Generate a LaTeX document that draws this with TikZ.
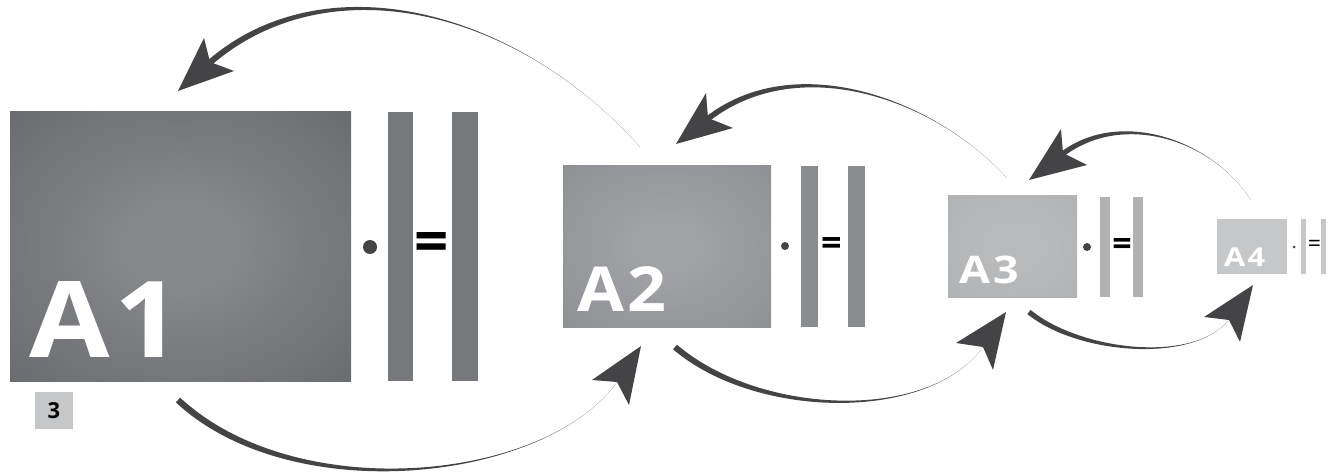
\documentclass[tikz,border=0pt]{standalone}
\usepackage{fontspec}
\usepackage{graphicx}
\setmainfont{Open Sans}
\usetikzlibrary{calc}
\definecolor{arrowc}{HTML}{444446}
\definecolor{dotc}{HTML}{444446}
\definecolor{aoneIn}{HTML}{86878B}
\definecolor{aoneOut}{HTML}{5C5D60}
\definecolor{aoneCorner}{HTML}{545558}
\definecolor{atwoIn}{HTML}{A1A2A5}
\definecolor{atwoOut}{HTML}{86878A}
\definecolor{atwoCorner}{HTML}{808184}
\definecolor{athreeIn}{HTML}{B9BABC}
\definecolor{athreeOut}{HTML}{ADAEB0}
\definecolor{afour}{HTML}{C6C7C8}
\definecolor{barone}{HTML}{77787B}
\definecolor{bartwo}{HTML}{8B8C8F}
\definecolor{barthree}{HTML}{B1B2B4}
\definecolor{barfour}{HTML}{C6C7C8}
\pgfdeclareradialshading{shAone}{\pgfpoint{0bp}{0bp}}{color(0bp)=(aoneIn); color(8bp)=(aoneIn); color(50bp)=(aoneOut); color(71bp)=(aoneCorner)}
\pgfdeclareradialshading{shAtwo}{\pgfpoint{0bp}{0bp}}{color(0bp)=(atwoIn); color(8bp)=(atwoIn); color(50bp)=(atwoOut); color(71bp)=(atwoCorner)}
\pgfdeclareradialshading{shAthree}{\pgfpoint{0bp}{0bp}}{color(0bp)=(athreeIn); color(10bp)=(athreeIn); color(50bp)=(athreeOut); color(71bp)=(athreeOut)}
\newcommand\taperfill[5]{%
  \fill[arrowc] (#1) .. controls (#2) and ($(#3)!#5!90:(#4)$) .. ($(#4)!#5!-90:(#3)$)
    -- ($(#4)!#5!90:(#3)$) .. controls ($(#3)!#5!-90:(#4)$) and (#2) .. (#1) -- cycle;}
\tikzset{
  mat/.style={inner sep=0pt, outer sep=0pt, draw=none},
  barbox/.style={inner sep=0pt, outer sep=0pt, draw=none, minimum width=#1},
  lbl/.style={inner sep=0pt, outer sep=0pt, text=white, anchor=base west},
  eqs/.style={inner sep=0pt, outer sep=0pt, text=black},
  dotn/.style={circle, fill=dotc, inner sep=0pt, minimum size=#1},
  head/.style={fill=arrowc}
}
\begin{document}
\begin{tikzpicture}[x=1pt,y=-1pt]
\useasboundingbox (0,0) rectangle (1338,473);
% ---------- A1 ----------
\node[mat, shading=shAone, minimum width=341pt, minimum height=269pt] (A1) at (180.5,246.5) {};
\node[lbl, font=\fontsize{106}{106}\selectfont\bfseries] (tA1) at (29,357) {\scalebox{1.1}[1]{A\kern5pt1}};
\node[dotn=14pt] (d1) at (370,247) {};
\node[barbox=25pt, fill=barone, minimum height=269pt] (b1a) at (400.5,246.5) {};
\node[eqs, font=\fontsize{60}{60}\selectfont\bfseries] (e1) at (432,247) {=};
\node[barbox=26pt, fill=barone, minimum height=269pt] (b1b) at (465,246.5) {};
\node[mat, fill=afour, minimum width=38pt, minimum height=37pt, font=\fontsize{22}{22}\selectfont\bfseries] (n3) at (54,410.5) {3};
% ---------- A2 ----------
\node[mat, shading=shAtwo, minimum width=208pt, minimum height=161pt] (A2) at (667,246.5) {};
\node[lbl, font=\fontsize{62}{62}\selectfont\bfseries] (tA2) at (577,311) {\scalebox{1.1}[1]{A\kern3pt2}};
\node[dotn=8pt] (d2) at (785,246) {};
\node[barbox=17pt, fill=bartwo, minimum height=161pt] (b2a) at (809.5,246.5) {};
\node[eqs, font=\fontsize{36}{36}\selectfont\bfseries] (e2) at (831.5,246) {=};
\node[barbox=17pt, fill=bartwo, minimum height=161pt] (b2b) at (856.5,246.5) {};
% ---------- A3 ----------
\node[mat, shading=shAthree, minimum width=129pt, minimum height=101pt] (A3) at (1012.5,246.5) {};
\node[lbl, font=\fontsize{38}{38}\selectfont\bfseries] (tA3) at (959,283) {\scalebox{1.18}[1]{A\kern3pt3}};
\node[dotn=8pt] (d3) at (1087,247) {};
\node[barbox=10pt, fill=barthree, minimum height=100pt] (b3a) at (1105,247) {};
\node[eqs, font=\fontsize{34}{34}\selectfont\bfseries] (e3) at (1122,247) {=};
\node[barbox=10pt, fill=barthree, minimum height=100pt] (b3b) at (1138,247) {};
% ---------- A4 ----------
\node[mat, fill=afour, minimum width=70pt, minimum height=55pt] (A4) at (1252,246.5) {};
\node[lbl, font=\fontsize{26}{26}\selectfont\bfseries] (tA4) at (1224,266) {\scalebox{1.18}[1]{A\kern2pt4}};
\node[dotn=3pt] (d4) at (1294,247) {};
\node[barbox=5pt, fill=barfour, minimum height=55pt] (b4a) at (1303.5,246.5) {};
\node[eqs, font=\fontsize{23}{23}\selectfont] (e4) at (1314.5,246) {=};
\node[barbox=5pt, fill=barfour, minimum height=55pt] (b4b) at (1323.5,246.5) {};
% ---------- arrow A2 -> A1 (top) ----------
\coordinate (ts1) at (640,147); \coordinate (tc1a) at (513,5); \coordinate (tc1b) at (321,-38); \coordinate (tn1) at (206,66);
\taperfill{ts1}{tc1a}{tc1b}{tn1}{3pt}
\coordinate (tt1) at (178,91); \coordinate (tb1a) at (204,38); \coordinate (tm1) at (210,62); \coordinate (tb1b) at (234,71);
\fill[head] (tt1) -- (tb1a) -- (tm1) -- (tb1b) -- cycle;
% ---------- arrow A1 -> A2 (bottom) ----------
\coordinate (bn1) at (620,378); \coordinate (bc1a) at (551,482); \coordinate (bc1b) at (295,509); \coordinate (bs1) at (178,400);
\taperfill{bn1}{bc1a}{bc1b}{bs1}{3.2pt}
\coordinate (bt1) at (641,346); \coordinate (bb1a) at (592,380); \coordinate (bm1) at (617,382); \coordinate (bb1b) at (629,405);
\fill[head] (bt1) -- (bb1a) -- (bm1) -- (bb1b) -- cycle;
% ---------- arrow A3 -> A2 (top) ----------
\coordinate (ts2) at (1007,178); \coordinate (tc2a) at (933,97); \coordinate (tc2b) at (794,49); \coordinate (tn2) at (705,121);
\taperfill{ts2}{tc2a}{tc2b}{tn2}{2.8pt}
\coordinate (tt2) at (676,144); \coordinate (tb2a) at (706,93); \coordinate (tm2) at (708,118); \coordinate (tb2b) at (733,128);
\fill[head] (tt2) -- (tb2a) -- (tm2) -- (tb2b) -- cycle;
% ---------- arrow A2 -> A3 (bottom) ----------
\coordinate (bn2) at (985,344); \coordinate (bc2a) at (933.5,422.6); \coordinate (bc2b) at (758.6,418.5); \coordinate (bs2) at (675,347);
\taperfill{bn2}{bc2a}{bc2b}{bs2}{3pt}
\coordinate (bt2) at (1006,312); \coordinate (bb2a) at (956,343); \coordinate (bm2) at (983,347); \coordinate (bb2b) at (993,370);
\fill[head] (bt2) -- (bb2a) -- (bm2) -- (bb2b) -- cycle;
% ---------- arrow A4 -> A3 (top) ----------
\coordinate (ts3) at (1251,200); \coordinate (tc3a) at (1209.75,137); \coordinate (tc3b) at (1117.6,109.6); \coordinate (tn3) at (1060,156);
\taperfill{ts3}{tc3a}{tc3b}{tn3}{2.6pt}
\coordinate (tt3) at (1029,180); \coordinate (tb3a) at (1061,129); \coordinate (tm3) at (1063,153); \coordinate (tb3b) at (1087,165);
\fill[head] (tt3) -- (tb3a) -- (tm3) -- (tb3b) -- cycle;
% ---------- arrow A3 -> A4 (bottom) ----------
\coordinate (bn3) at (1231,317); \coordinate (bc3a) at (1197.6,365); \coordinate (bc3b) at (1079,353); \coordinate (bs3) at (1029,312);
\taperfill{bn3}{bc3a}{bc3b}{bs3}{2.6pt}
\coordinate (bt3) at (1253,285); \coordinate (bb3a) at (1204,317); \coordinate (bm3) at (1229,320); \coordinate (bb3b) at (1240,342);
\fill[head] (bt3) -- (bb3a) -- (bm3) -- (bb3b) -- cycle;
\end{tikzpicture}
\end{document}
